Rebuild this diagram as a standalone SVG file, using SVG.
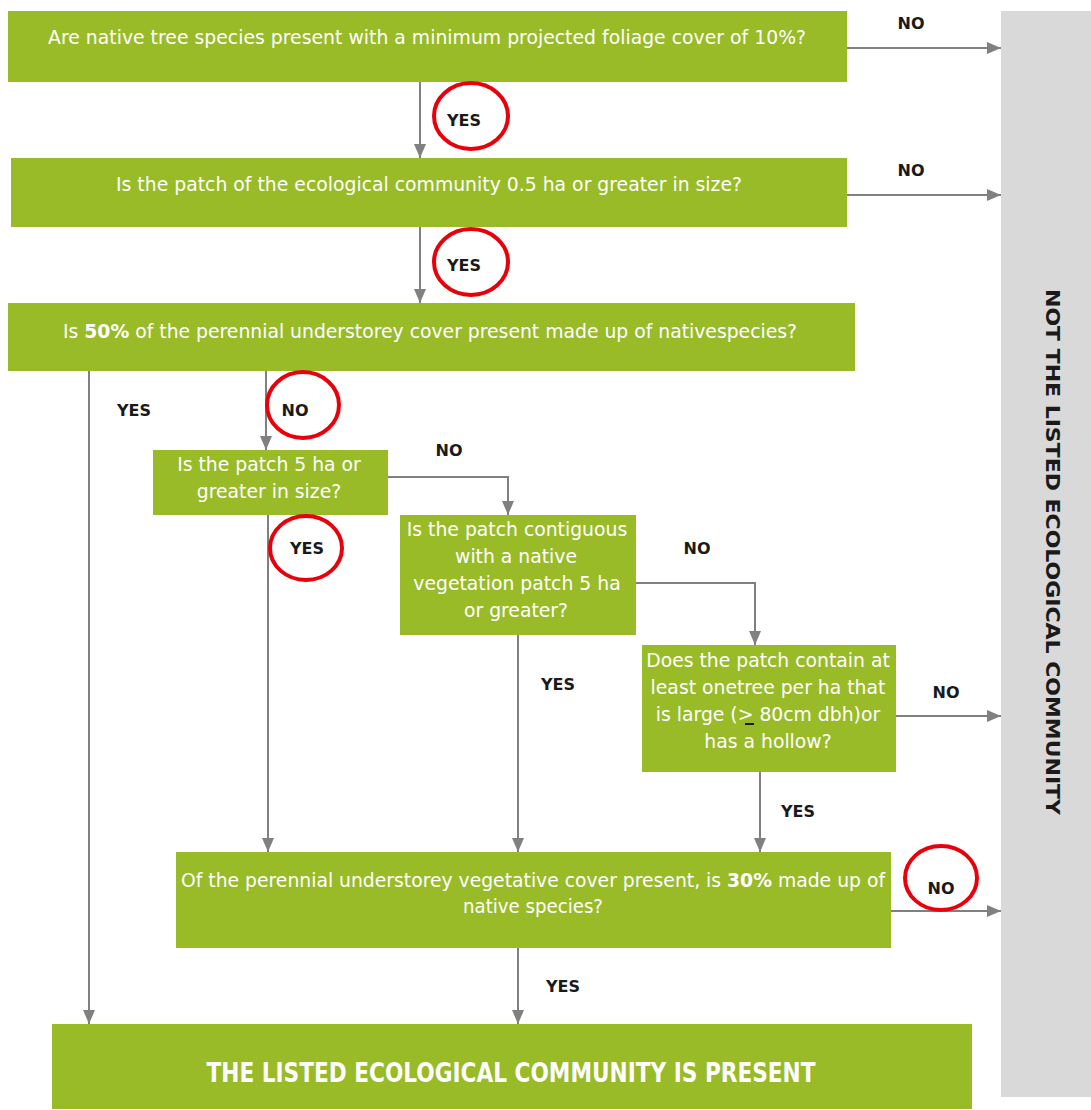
<svg xmlns="http://www.w3.org/2000/svg" width="1091" height="1110" viewBox="0 0 1091 1110">
<defs>
<marker id="ah" markerWidth="14" markerHeight="12" refX="14" refY="6" orient="auto" markerUnits="userSpaceOnUse">
<path d="M0,0 L14,6 L0,12 Z" fill="#808080"/>
</marker>
</defs>
<style>
.box{fill:#99BB28}
.t{font-family:"DejaVu Sans","Liberation Sans",sans-serif;font-size:18.8px;fill:#ffffff;text-anchor:middle}
.lbl{font-family:"DejaVu Sans","Liberation Sans",sans-serif;font-size:16px;font-weight:bold;fill:#1a1a1a;text-anchor:middle}
.c{fill:none;stroke:#808080;stroke-width:2;marker-end:url(#ah)}
.ring{fill:none;stroke:#e8000b;stroke-width:4}
</style>
<rect width="1091" height="1110" fill="#ffffff"/>
<g id="not-listed">
<rect x="1001" y="11" width="90" height="1086" fill="#d9d9d9"/>
<text transform="translate(1046,552) rotate(90)" style="font-family:'DejaVu Sans','Liberation Sans',sans-serif;font-size:20px;font-weight:bold;fill:#1a1a1a;text-anchor:middle" textLength="526" lengthAdjust="spacingAndGlyphs">NOT THE LISTED ECOLOGICAL COMMUNITY</text>
</g>
<g id="q1">
<rect class="box" x="8" y="11" width="839" height="71"/>
<text class="t" x="427" y="44" textLength="758">Are native tree species present with a minimum projected foliage cover of 10%?</text>
</g>
<g id="q2">
<rect class="box" x="11" y="158" width="836" height="69"/>
<text class="t" x="429" y="191" textLength="626">Is the patch of the ecological community 0.5 ha or greater in size?</text>
</g>
<g id="q3">
<rect class="box" x="8" y="303" width="847" height="68"/>
<text class="t" x="430" y="338" textLength="734">Is <tspan font-weight="bold">50%</tspan> of the perennial understorey cover present made up of nativespecies?</text>
</g>
<g id="q4">
<rect class="box" x="153" y="450" width="235" height="65"/>
<text class="t" x="269" y="471">Is the patch 5 ha or</text>
<text class="t" x="269" y="498">greater in size?</text>
</g>
<g id="q5">
<rect class="box" x="400" y="515" width="236" height="120"/>
<text class="t" x="517" y="536">Is the patch contiguous</text>
<text class="t" x="516" y="563">with a  native</text>
<text class="t" x="517" y="590">vegetation patch 5 ha</text>
<text class="t" x="516" y="617">or greater?</text>
</g>
<g id="q6">
<rect class="box" x="642" y="645" width="254" height="127"/>
<text class="t" x="768" y="667">Does the patch contain at</text>
<text class="t" x="768" y="694">least onetree per ha that</text>
<text class="t" x="768" y="721">is large (&gt; 80cm dbh)or</text>
<line x1="745" y1="724" x2="754" y2="724" stroke="#1a1a1a" stroke-width="2"/>
<text class="t" x="768" y="748">has a hollow?</text>
</g>
<g id="q7">
<rect class="box" x="176" y="852" width="715" height="96"/>
<text class="t" x="533" y="887" textLength="704" lengthAdjust="spacingAndGlyphs">Of the perennial understorey vegetative cover present, is <tspan font-weight="bold">30%</tspan> made up of</text>
<text class="t" x="533" y="913" textLength="140" lengthAdjust="spacingAndGlyphs">native species?</text>
</g>
<g id="present">
<rect class="box" x="52" y="1024" width="920" height="85"/>
<text x="511" y="1082" style="font-family:'DejaVu Sans','Liberation Sans',sans-serif;font-size:26px;font-weight:bold;fill:#ffffff;text-anchor:middle" textLength="609" lengthAdjust="spacingAndGlyphs">THE LISTED ECOLOGICAL COMMUNITY IS PRESENT</text>
</g>
<g id="connectors">
<path class="c" d="M847,48 H1001"/>
<path class="c" d="M847,195 H1001"/>
<path class="c" d="M420,82 V158"/>
<path class="c" d="M420,227 V303"/>
<path class="c" d="M89,371 V1024"/>
<path class="c" d="M266,371 V450"/>
<path class="c" d="M388,477 H508 V515"/>
<path class="c" d="M268,515 V852"/>
<path class="c" d="M636,583 H755 V645"/>
<path class="c" d="M518,635 V852"/>
<path class="c" d="M896,716 H1001"/>
<path class="c" d="M760,772 V852"/>
<path class="c" d="M891,911 H1001"/>
<path class="c" d="M518,948 V1024"/>
</g>
<g id="labels">
<text class="lbl" x="911" y="29">NO</text>
<text class="lbl" x="911" y="176">NO</text>
<text class="lbl" x="464" y="126">YES</text>
<ellipse class="ring" cx="471" cy="116" rx="37" ry="33"/>
<text class="lbl" x="464" y="271">YES</text>
<ellipse class="ring" cx="471" cy="262" rx="37" ry="33"/>
<text class="lbl" x="134" y="416">YES</text>
<text class="lbl" x="295" y="416">NO</text>
<ellipse class="ring" cx="303" cy="405" rx="36" ry="33"/>
<text class="lbl" x="449" y="456">NO</text>
<text class="lbl" x="307" y="554">YES</text>
<ellipse class="ring" cx="306" cy="548" rx="36" ry="32"/>
<text class="lbl" x="697" y="554">NO</text>
<text class="lbl" x="558" y="690">YES</text>
<text class="lbl" x="946" y="698">NO</text>
<text class="lbl" x="798" y="817">YES</text>
<text class="lbl" x="941" y="894">NO</text>
<ellipse class="ring" cx="941" cy="878" rx="36" ry="32"/>
<text class="lbl" x="563" y="992">YES</text>
</g>
</svg>
